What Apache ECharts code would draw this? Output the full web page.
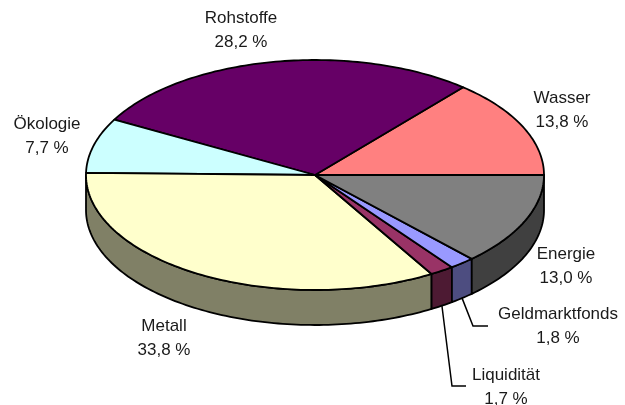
<!DOCTYPE html>
<html>
<head>
<meta charset="utf-8">
<style>
  html, body { margin: 0; padding: 0; background: #fff; }
  #chart { width: 625px; height: 405px; }
</style>
<script src="https://cdn.jsdelivr.net/npm/echarts@6/dist/echarts.min.js"></script>
</head>
<body>
<div id="chart"></div>
<script>
  const categories = ['Wasser', 'Rohstoffe', 'Ökologie', 'Metall', 'Liquidität', 'Geldmarktfonds', 'Energie'];
  const shares = [13.8, 28.2, 7.7, 33.8, 1.7, 1.8, 13.0];
  const topColors = ['#ff8080', '#660066', '#ccffff', '#ffffcc', '#993366', '#9999ff', '#808080'];
  const wallColors = ['#804040', '#330033', '#668080', '#808066', '#4d1a33', '#4d4d80', '#404040'];

  // label anchors (centre x, y of the first line), one per category
  const labelX = [562, 241, 47, 164, 506, 558, 566];
  const labelY = [98, 18, 124, 326, 375, 314, 254];

  // leader lines, only the two thin slices have one
  const leaders = {
    Liquidität: [[452, 386], [466, 386]],
    Geldmarktfonds: [[473, 326], [488, 326]]
  };

  const cx = 315, cy = 175, rx = 229, ry = 115, depth = 35;
  const total = shares.reduce(function (a, b) { return a + b; }, 0);

  // cumulative angle of a slice, counter-clockwise from 3 o'clock
  function sliceAngles(idx) {
    let sum = 0;
    for (let i = 0; i < idx; i++) sum += shares[i];
    return [sum / total * Math.PI * 2, (sum + shares[idx]) / total * Math.PI * 2];
  }
  function rim(a, dy) {
    return [cx + rx * Math.cos(a), cy - ry * Math.sin(a) + (dy || 0)];
  }
  function arc(a0, a1, dy) {
    const pts = [];
    const n = Math.max(2, Math.ceil((a1 - a0) / 0.02));
    for (let i = 0; i <= n; i++) pts.push(rim(a0 + (a1 - a0) * i / n, dy));
    return pts;
  }

  const lineStyle = { stroke: '#000', lineWidth: 1.8, lineJoin: 'round' };

  const chart = echarts.init(document.getElementById('chart'));
  const rows = categories.map(function (name, i) { return [i, shares[i]]; });

  chart.setOption({
    animation: false,
    series: [
      {
        // side wall, only the front half of the disc shows it
        type: 'custom',
        coordinateSystem: 'none',
        silent: true,
        data: rows,
        renderItem: function (params, api) {
          const idx = api.value(0);
          const ang = sliceAngles(idx);
          const a0 = Math.max(ang[0], Math.PI);
          const a1 = ang[1];
          if (a1 <= a0) return { type: 'group', children: [] };
          const pts = arc(a0, a1, 0).concat(arc(a0, a1, depth).reverse());
          return {
            type: 'polygon',
            shape: { points: pts },
            style: Object.assign({ fill: wallColors[idx] }, lineStyle)
          };
        }
      },
      {
        // top face
        type: 'custom',
        coordinateSystem: 'none',
        silent: true,
        data: rows,
        renderItem: function (params, api) {
          const idx = api.value(0);
          const ang = sliceAngles(idx);
          const pts = [[cx, cy]].concat(arc(ang[0], ang[1], 0));
          return {
            type: 'polygon',
            shape: { points: pts },
            style: Object.assign({ fill: topColors[idx] }, lineStyle)
          };
        }
      },
      {
        // labels and leader lines
        type: 'custom',
        coordinateSystem: 'none',
        silent: true,
        data: rows,
        renderItem: function (params, api) {
          const idx = api.value(0);
          const name = categories[idx];
          const ang = sliceAngles(idx);
          const children = [{
            type: 'text',
            style: {
              x: labelX[idx],
              y: labelY[idx] - 12,
              text: name + '\n' + api.value(1).toFixed(1).replace('.', ',') + ' %',
              fill: '#1a1a1a',
              font: '17px "Liberation Sans", Arial, sans-serif',
              lineHeight: 24,
              align: 'center',
              verticalAlign: 'top'
            }
          }];
          if (leaders[name]) {
            children.push({
              type: 'polyline',
              shape: { points: [rim((ang[0] + ang[1]) / 2, depth)].concat(leaders[name]) },
              style: { stroke: '#000', lineWidth: 1.5, fill: null }
            });
          }
          return { type: 'group', children: children };
        }
      }
    ]
  });
</script>
</body>
</html>
